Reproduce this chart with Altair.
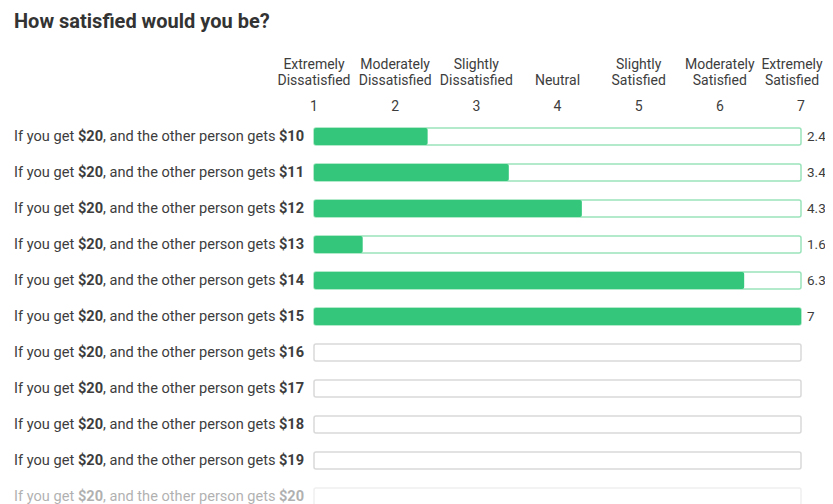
import altair as alt
import pandas as pd

title_text = "How satisfied would you be?"
scale_points = [1, 2, 3, 4, 5, 6, 7]
header_top = ["Extremely", "Moderately", "Slightly", "", "Slightly", "Moderately", "Extremely"]
header_bottom = ["Dissatisfied", "Dissatisfied", "Dissatisfied", "Neutral", "Satisfied", "Satisfied", "Satisfied"]
other_amounts = ["$10", "$11", "$12", "$13", "$14", "$15", "$16", "$17", "$18", "$19", "$20"]
scores = [2.4, 3.4, 4.3, 1.6, 6.3, 7, None, None, None, None, None]

FONT = "Roboto"
GREEN = "#34c77b"
TEXT = "#3d3d3d"

rows = pd.DataFrame({
    "idx": list(range(len(other_amounts))),
    "amount": other_amounts,
    "score": scores,
})
rows["answered"] = rows["score"].notna()
rows["fade"] = [1.0] * (len(rows) - 1) + [0.4]
rows["score_txt"] = [("" if pd.isna(s) else (str(int(s)) if s == int(s) else str(s))) for s in scores]

hdr = pd.DataFrame({"pt": scale_points, "top": header_top, "bottom": header_bottom})

W, H = 817, 496
XS = alt.Scale(domain=[1, 7], range=[306, 793], padding=0, nice=False, zero=False)
yscale = alt.Scale(domain=[0, 10], range=[128.5, 488.5], padding=0, nice=False, zero=False)

base = alt.Chart(rows)
Y = alt.Y("idx:Q", scale=yscale, axis=None)
OP = alt.Opacity("fade:Q", scale=None, legend=None)

track = base.mark_bar(size=17, cornerRadius=2, fill="white", strokeWidth=1.5, orient="horizontal").encode(
    x=alt.X("lo:Q", scale=XS, axis=None),
    x2="hi:Q",
    y=Y,
    stroke=alt.condition("datum.answered", alt.value("#9be3bb"), alt.value("#d9d9d9")),
    opacity=OP,
).transform_calculate(lo="1", hi="7")

fill = base.transform_filter("datum.answered").mark_bar(size=17, cornerRadius=2, color=GREEN, orient="horizontal").encode(
    x=alt.X("lo:Q", scale=XS, axis=None),
    x2="score:Q",
    y=Y,
).transform_calculate(lo="1")

vals = base.transform_filter("datum.answered").mark_text(
    align="left", baseline="middle", font=FONT, fontSize=13.5, color=TEXT
).encode(x=alt.value(799), y=Y, text="score_txt:N")

LFS = 14.6

def seg(txt, xpos, bold, field=None):
    m = base.mark_text(align="left", baseline="middle", font=FONT, fontSize=LFS,
                       fontWeight="bold" if bold else "normal", color=TEXT)
    enc = dict(x=alt.value(xpos), y=Y, opacity=OP)
    if field:
        enc["text"] = alt.Text(field + ":N")
    else:
        enc["text"] = alt.value(txt)
    return m.encode(**enc)

labels = (seg("If you get", 6, False) + seg("$20", 70, True)
          + seg(", and the other person gets", 95, False) + seg(None, 271, True, "amount"))

hx = alt.X("pt:Q", scale=XS, axis=None)

def header_layer(field, yv, last):
    flt = "datum.pt == 7" if last else "datum.pt < 7"
    return alt.Chart(hdr).transform_filter(flt).mark_text(
        align="center", baseline="middle", font=FONT, fontSize=14, color=TEXT, dx=-9 if last else 0
    ).encode(x=hx, y=alt.value(yv), text=f"{field}:N")

headers = alt.layer(
    header_layer("top", 57, False), header_layer("top", 57, True),
    header_layer("bottom", 73, False), header_layer("bottom", 73, True),
)
nums = alt.Chart(hdr).mark_text(
    align="center", baseline="middle", font=FONT, fontSize=14, color=TEXT
).encode(x=hx, y=alt.value(99), text="pt:N")

title = alt.Chart(rows).mark_text(
    align="left", baseline="middle", font=FONT, fontSize=20, fontWeight="bold", color="#333333"
).encode(x=alt.value(6), y=alt.value(14), text=alt.value(title_text)).transform_filter("datum.idx == 0")

chart = alt.layer(track, fill, vals, labels, headers, nums, title).properties(
    width=W, height=H, padding=0, autosize=alt.AutoSizeParams(type="none")
).configure_view(stroke=None)

chart.save("out.html", embed_options={"renderer": "svg", "actions": False})
